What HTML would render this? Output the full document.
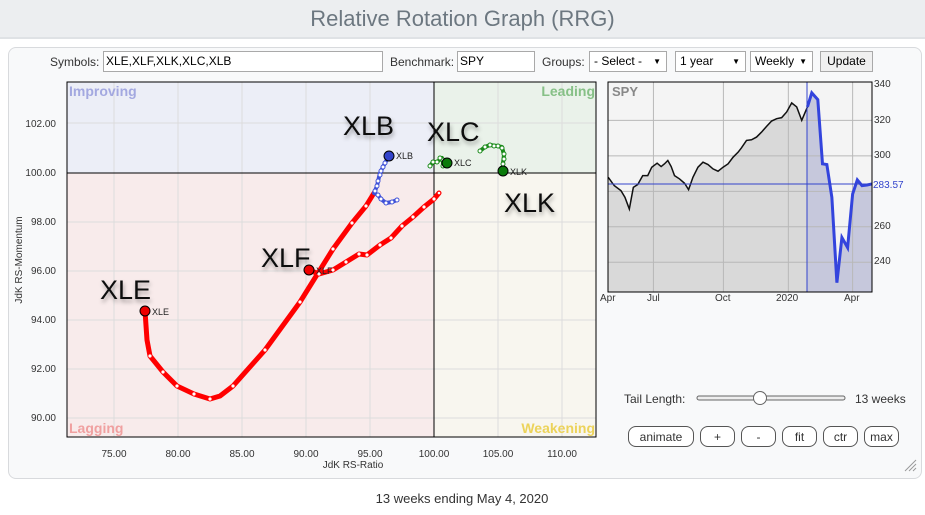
<!DOCTYPE html>
<html><head><meta charset="utf-8"><style>
body{margin:0;width:925px;height:515px;background:#fff;font-family:"Liberation Sans",sans-serif;overflow:hidden;position:relative}
.hdr{position:absolute;left:0;top:0;width:925px;height:37px;background:#eceef0;border-bottom:2px solid #dfe2e5;text-align:center;font-size:22px;color:#6c7780;line-height:37px}
.panel{position:absolute;left:8px;top:47px;width:912px;height:430px;background:#f8f9fa;border:1px solid #d8dadd;border-radius:8px}
.lbl{position:absolute;font-size:12px;color:#333;top:55px}
.inp{position:absolute;top:51px;border:1px solid #a9a9a9;background:#fff;font-size:12px;line-height:19px;padding-left:2px;box-sizing:border-box;height:21px}
.sel{position:absolute;top:51px;height:21px;border:1px solid #a9a9a9;background:#fff;font-size:12px;line-height:19px;padding-left:4px;box-sizing:border-box}
.sel.dd:after{content:"▼";position:absolute;right:5px;font-size:8px}
.btn{position:absolute;top:426px;height:21px;border:1px solid #555;border-radius:8px;background:#fff;font-size:12px;text-align:center;line-height:20px;box-sizing:border-box;color:#333}
</style></head><body>
<div class="hdr">Relative Rotation Graph (RRG)</div>
<div class="panel"></div>
<div class="lbl" style="left:50px">Symbols:</div>
<div class="inp" style="left:103px;width:280px">XLE,XLF,XLK,XLC,XLB</div>
<div class="lbl" style="left:390px">Benchmark:</div>
<div class="inp" style="left:457px;width:78px">SPY</div>
<div class="lbl" style="left:542px">Groups:</div>
<div class="sel dd" style="left:589px;width:78px">- Select -</div>
<div class="sel dd" style="left:675px;width:71px">1 year</div>
<div class="sel dd" style="left:750px;width:63px">Weekly</div>
<div class="sel" style="left:820px;width:53px;background:#f0f0f0;text-align:center;padding:0">Update</div>
<svg width="925" height="515" style="position:absolute;left:0;top:0" font-family="Liberation Sans, sans-serif">
<defs><filter id="sh" x="-20%" y="-20%" width="140%" height="160%"><feDropShadow dx="1" dy="3" stdDeviation="2" flood-color="#000" flood-opacity="0.35"/></filter></defs>
<rect x="67" y="82" width="367" height="91" fill="#eceef7"/>
<rect x="434" y="82" width="162" height="91" fill="#eaf2ea"/>
<rect x="67" y="173" width="367" height="264" fill="#f8ebeb"/>
<rect x="434" y="173" width="162" height="264" fill="#f8f6ef"/>
<g stroke="#dcdcdc" stroke-width="1">
<line x1="114" y1="82" x2="114" y2="437"/><line x1="178" y1="82" x2="178" y2="437"/><line x1="242" y1="82" x2="242" y2="437"/><line x1="306" y1="82" x2="306" y2="437"/><line x1="370" y1="82" x2="370" y2="437"/><line x1="498" y1="82" x2="498" y2="437"/><line x1="562" y1="82" x2="562" y2="437"/>
<line x1="67" y1="123" x2="596" y2="123"/><line x1="67" y1="222" x2="596" y2="222"/><line x1="67" y1="271" x2="596" y2="271"/><line x1="67" y1="320" x2="596" y2="320"/><line x1="67" y1="369" x2="596" y2="369"/><line x1="67" y1="418" x2="596" y2="418"/>
</g>
<line x1="434" y1="82" x2="434" y2="437" stroke="#000"/>
<line x1="67" y1="173" x2="596" y2="173" stroke="#000"/>
<rect x="67" y="82" width="529" height="355" fill="none" stroke="#000"/>
<g font-size="14" font-weight="bold">
<text x="69" y="96" fill="#a3a8e0">Improving</text>
<text x="595" y="96" fill="#86c086" text-anchor="end">Leading</text>
<text x="69" y="433" fill="#f0a0a0">Lagging</text>
<text x="595" y="433" fill="#ecd35a" text-anchor="end">Weakening</text>
</g>
<g font-size="10" fill="#333" text-anchor="end">
<text x="56" y="127">102.00</text><text x="56" y="176">100.00</text><text x="56" y="225">98.00</text><text x="56" y="274">96.00</text><text x="56" y="323">94.00</text><text x="56" y="372">92.00</text><text x="56" y="421">90.00</text>
</g>
<g font-size="10" fill="#333" text-anchor="middle">
<text x="114" y="457">75.00</text><text x="178" y="457">80.00</text><text x="242" y="457">85.00</text><text x="306" y="457">90.00</text><text x="370" y="457">95.00</text><text x="434" y="457">100.00</text><text x="498" y="457">105.00</text><text x="562" y="457">110.00</text>
<text x="353" y="468">JdK RS-Ratio</text>
<text transform="translate(22,260) rotate(-90)">JdK RS-Momentum</text>
</g>
<g fill="none" stroke-linecap="round" stroke-linejoin="round">
<path d="M145,311 L147,340 150,356 163,372 177,386 194,394 210,399 220,396 233,386 265,350 300,302 333,249 352,223 366,206 374,193" stroke="#f00" stroke-width="5"/>
<path d="M309,270 L319,274 333,270 346,262 359,254 367,255 380,245 391,238 402,226 413,217 424,207 434,199 439,193" stroke="#f00" stroke-width="5"/>
<path d="M389,156 L385,163 383,167 380,173 379,177 377,186 374,193 378,195 381,199 386,203 392,202 397,200" stroke="#3f51d8" stroke-width="4"/>
<path d="M447,163 L443,166 443,160 442,158 437,162 433,162 430,166" stroke="#1a8a1a" stroke-width="4"/>
<path d="M503,171 L503,163 504,155 502,147 497,146 490,145 485,147 480,151" stroke="#1a8a1a" stroke-width="4"/>
</g>
<g fill="#fff" stroke="none">
<circle cx="150" cy="356" r="1.6"/><circle cx="163" cy="372" r="1.6"/><circle cx="177" cy="386" r="1.6"/><circle cx="194" cy="394" r="1.6"/><circle cx="210" cy="399" r="1.6"/><circle cx="233" cy="386" r="1.6"/><circle cx="265" cy="350" r="1.6"/><circle cx="300" cy="302" r="1.6"/><circle cx="333" cy="249" r="1.6"/><circle cx="352" cy="223" r="1.6"/><circle cx="366" cy="206" r="1.6"/>
<circle cx="319" cy="274" r="1.6"/><circle cx="333" cy="270" r="1.6"/><circle cx="346" cy="262" r="1.6"/><circle cx="359" cy="254" r="1.6"/><circle cx="367" cy="255" r="1.6"/><circle cx="380" cy="245" r="1.6"/><circle cx="391" cy="238" r="1.6"/><circle cx="402" cy="226" r="1.6"/><circle cx="413" cy="217" r="1.6"/><circle cx="424" cy="207" r="1.6"/><circle cx="434" cy="199" r="1.6"/><circle cx="439" cy="193" r="1.8" stroke="#f00"/>
</g>
<g fill="#fff" stroke="#3f51d8" stroke-width="1">
<circle cx="385" cy="163" r="2"/><circle cx="383" cy="167" r="2"/><circle cx="381" cy="171" r="2"/><circle cx="380" cy="175" r="2"/><circle cx="378" cy="181" r="2"/><circle cx="377" cy="186" r="2"/><circle cx="375" cy="191" r="2"/><circle cx="378" cy="195" r="2"/><circle cx="381" cy="199" r="2"/><circle cx="386" cy="203" r="2"/><circle cx="392" cy="202" r="2"/><circle cx="397" cy="200" r="2"/>
</g>
<g fill="#fff" stroke="#1a8a1a" stroke-width="1">
<circle cx="443" cy="166" r="2"/><circle cx="443" cy="160" r="2"/><circle cx="440" cy="158" r="2"/><circle cx="437" cy="162" r="2"/><circle cx="433" cy="162" r="2"/><circle cx="430" cy="166" r="2"/>
<circle cx="503" cy="164" r="2"/><circle cx="504" cy="159" r="2"/><circle cx="504" cy="154" r="2"/><circle cx="502" cy="148" r="2"/><circle cx="498" cy="146" r="2"/><circle cx="494" cy="146" r="2"/><circle cx="490" cy="145" r="2"/><circle cx="485" cy="147" r="2"/><circle cx="480" cy="151" r="2"/>
</g>
<g stroke="#000" stroke-width="1">
<circle cx="145" cy="311" r="5" fill="#e00"/><circle cx="309" cy="270" r="5" fill="#e00"/><circle cx="389" cy="156" r="5" fill="#3344cc"/><circle cx="447" cy="163" r="5" fill="#0a7a0a"/><circle cx="503" cy="171" r="5" fill="#0a7a0a"/>
</g>
<g font-size="9" fill="#222">
<text x="152" y="315">XLE</text><text x="316" y="274">XLF</text><text x="396" y="159">XLB</text><text x="454" y="166">XLC</text><text x="510" y="175">XLK</text>
</g>
<g font-size="27" fill="#111" filter="url(#sh)">
<text x="100" y="299">XLE</text><text x="261" y="267">XLF</text><text x="343" y="135">XLB</text><text x="427" y="141">XLC</text><text x="504" y="212">XLK</text>
</g>
<rect x="608" y="82" width="264" height="210" fill="#f4f4f4"/>
<g transform="translate(400,40) scale(0.33478)">
<path d="M622,410 L640,435 660,450 672,470 685,505 697,440 710,432 725,405 740,405 752,380 768,368 780,378 790,370 800,360 810,378 820,405 835,415 850,428 862,447 875,410 890,380 905,365 920,372 935,385 950,392 965,380 980,370 995,350 1010,335 1020,322 1035,300 1050,298 1065,290 1080,275 1095,258 1110,242 1125,235 1140,232 1155,215 1170,188 1185,200 1200,240 1217,200 L1217,752 L622,752 Z" fill="#d9d9d9"/>
<path d="M1217,200 L1230,158 1248,178 1262,370 1275,372 1290,470 1305,725 1320,590 1337,620 1352,460 1366,418 1380,435 1395,433 1410,430 L1410,752 L1217,752 Z" fill="#c6c8dc"/>
<g stroke="#b8b8b8" stroke-width="1">
<line x1="757" y1="127" x2="757" y2="752" vector-effect="non-scaling-stroke"/><line x1="966" y1="127" x2="966" y2="752" vector-effect="non-scaling-stroke"/><line x1="1160" y1="127" x2="1160" y2="752" vector-effect="non-scaling-stroke"/><line x1="1352" y1="127" x2="1352" y2="752" vector-effect="non-scaling-stroke"/>
<line x1="622" y1="240" x2="1410" y2="240" vector-effect="non-scaling-stroke"/><line x1="622" y1="346" x2="1410" y2="346" vector-effect="non-scaling-stroke"/><line x1="622" y1="452" x2="1410" y2="452" vector-effect="non-scaling-stroke"/><line x1="622" y1="558" x2="1410" y2="558" vector-effect="non-scaling-stroke"/><line x1="622" y1="664" x2="1410" y2="664" vector-effect="non-scaling-stroke"/>
</g>
<path d="M622,410 L640,435 660,450 672,470 685,505 697,440 710,432 725,405 740,405 752,380 768,368 780,378 790,370 800,360 810,378 820,405 835,415 850,428 862,447 875,410 890,380 905,365 920,372 935,385 950,392 965,380 980,370 995,350 1010,335 1020,322 1035,300 1050,298 1065,290 1080,275 1095,258 1110,242 1125,235 1140,232 1155,215 1170,188 1185,200 1200,240 1217,200" fill="none" stroke="#111" stroke-width="1.5" vector-effect="non-scaling-stroke"/>
<path d="M1217,200 L1230,158 1248,178 1262,370 1275,372 1290,470 1305,725 1320,590 1337,620 1352,460 1366,418 1380,435 1395,433 1410,430" fill="none" stroke="#3344dd" stroke-width="3" vector-effect="non-scaling-stroke"/>
</g>
<line x1="807" y1="82" x2="807" y2="292" stroke="#3344cc" stroke-width="1"/>
<line x1="608" y1="184" x2="872" y2="184" stroke="#3344cc" stroke-width="1"/>
<rect x="608" y="82" width="264" height="210" fill="none" stroke="#000"/>
<text x="612" y="96" font-size="13" font-weight="bold" fill="#888">SPY</text>
<g font-size="10" fill="#333">
<text x="874" y="87">340</text><text x="874" y="123">320</text><text x="874" y="158">300</text><text x="874" y="229">260</text><text x="874" y="264">240</text>
<text x="873" y="188" fill="#3344cc">283.57</text>
<text x="600" y="301">Apr</text><text x="647" y="301">Jul</text><text x="715" y="301">Oct</text><text x="776" y="301">2020</text><text x="844" y="301">Apr</text>
</g>
<text x="624" y="403" font-size="12" fill="#333">Tail Length:</text>
<rect x="697" y="396" width="148" height="4" rx="2" fill="#eee" stroke="#666"/>
<circle cx="760" cy="398" r="6.5" fill="#fff" stroke="#666"/>
<text x="855" y="403" font-size="12" fill="#333">13 weeks</text>
<text x="462" y="503" font-size="13" fill="#333" text-anchor="middle">13 weeks ending May 4, 2020</text>
<g stroke="#999" stroke-width="1"><line x1="905" y1="471" x2="916" y2="460"/><line x1="909" y1="471" x2="916" y2="464"/><line x1="913" y1="471" x2="916" y2="468"/></g>
</svg>
<div class="btn" style="left:628px;width:66px">animate</div>
<div class="btn" style="left:700px;width:35px">+</div>
<div class="btn" style="left:741px;width:35px">-</div>
<div class="btn" style="left:782px;width:35px">fit</div>
<div class="btn" style="left:823px;width:35px">ctr</div>
<div class="btn" style="left:864px;width:35px">max</div>
</body></html>
